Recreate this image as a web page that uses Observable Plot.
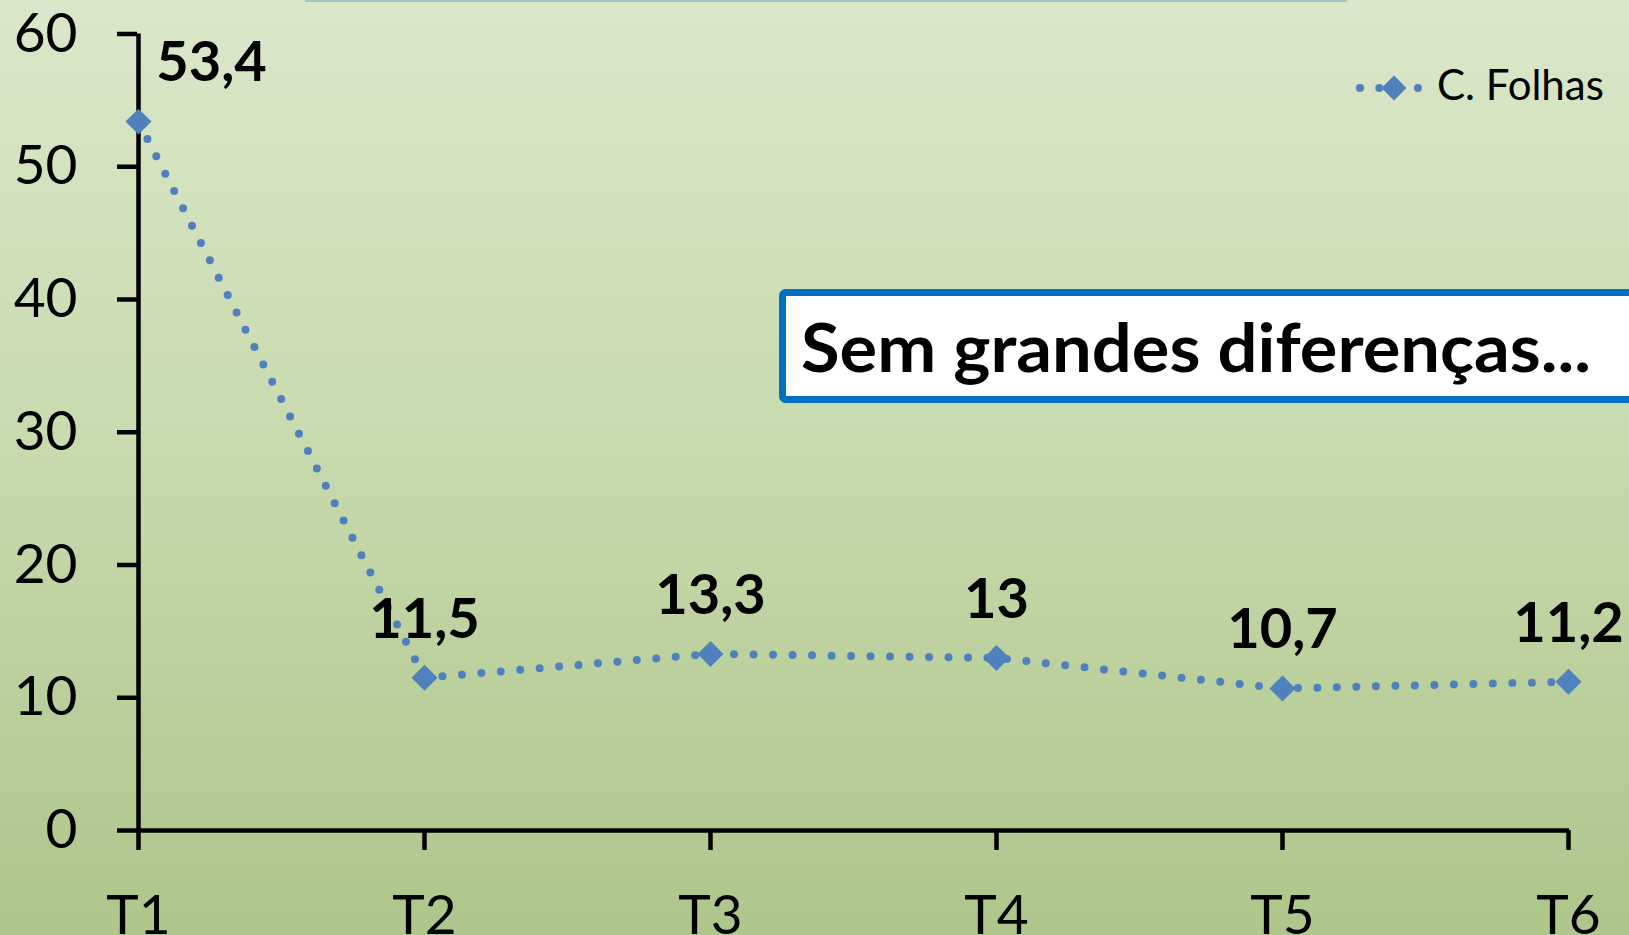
<!DOCTYPE html>
<html>
<head>
<meta charset="utf-8">
<script src="https://cdn.jsdelivr.net/npm/d3@7"></script>
<script src="https://cdn.jsdelivr.net/npm/@observablehq/plot@0.6"></script>
<style>
  html, body { margin: 0; padding: 0; width: 1629px; height: 935px; overflow: hidden; }
  #chart { width: 1629px; height: 935px; }
</style>
</head>
<body>
<div id="chart"></div>
<script>
// Data
const categories = ["T1", "T2", "T3", "T4", "T5", "T6"];
const values = [53.4, 11.5, 13.3, 13, 10.7, 11.2];
const yTicks = [0, 10, 20, 30, 40, 50, 60];
const seriesName = "C. Folhas";
const annotationText = "Sem grandes diferenças...";

const data = categories.map((c, i) => ({cat: c, v: values[i]}));
const fmt = v => String(v).replace(".", ",");
const blue = "#4F81BD";
const font = "Lato, 'Open Sans', sans-serif";

const W = 1629, H = 935;

const plot = Plot.plot({
  width: W,
  height: H,
  marginLeft: 137,
  marginRight: 60,
  marginTop: 33.5,
  marginBottom: 105,
  style: {
    background: "linear-gradient(to bottom, #DAE7CA 0%, #C9DBB0 45%, #ADC68A 100%)",
    fontFamily: font,
    fontSize: "55px",
    color: "#000",
    overflow: "visible"
  },
  x: {type: "point", domain: categories, padding: 0, label: null},
  y: {domain: [0, 60], label: null},
  marks: [
    Plot.axisY({ticks: yTicks, tickSize: 20, tickPadding: 40, stroke: "#000", strokeWidth: 4.5, strokeOpacity: 1, fontSize: 55, label: null}),
    Plot.axisX({tickSize: 20, tickPadding: 44, stroke: "#000", strokeWidth: 4.5, strokeOpacity: 1, fontSize: 55, label: null}),
    Plot.ruleX([categories[0]], {y1: 0, y2: 60, stroke: "#000", strokeWidth: 4.5}),
    Plot.ruleY([0], {stroke: "#000", strokeWidth: 4.5}),
    Plot.line(data, {x: "cat", y: "v", stroke: blue, strokeWidth: 8, strokeDasharray: "0 19.5", strokeLinecap: "round"}),
    Plot.dot(data, {x: "cat", y: "v", symbol: "diamond2", r: 11.7, fill: blue, stroke: "none"}),
    Plot.text(data.slice(1), {x: "cat", y: "v", text: d => fmt(d.v), dy: -40, lineAnchor: "bottom", fontWeight: "bold", fontSize: 56, fill: "#000"}),
    Plot.text(data.slice(0, 1), {x: "cat", y: "v", text: d => fmt(d.v), dx: 73, dy: -41, lineAnchor: "bottom", fontWeight: "bold", fontSize: 56, fill: "#000"})
  ]
});

document.getElementById("chart").appendChild(plot);

// Annotations (legend, note box, top line)
const svg = d3.select(plot);

// top light-blue line (edge of a cut-off title box)
svg.append("line").attr("x1", 305).attr("x2", 1347).attr("y1", 0.5).attr("y2", 0.5)
  .attr("stroke", "#9CC8CA").attr("stroke-width", 3);

// Legend
const lg = svg.append("g");
lg.append("line").attr("x1", 1360).attr("x2", 1418).attr("y1", 88).attr("y2", 88)
  .attr("stroke", blue).attr("stroke-width", 8).attr("stroke-linecap", "round")
  .attr("stroke-dasharray", "0 19.3");
lg.append("path").attr("d", d3.symbol(d3.symbolDiamond2, Math.PI * 11.2 * 11.2)())
  .attr("transform", "translate(1394,88)").attr("fill", blue);
lg.append("text").attr("x", 1437).attr("y", 100).text(seriesName)
  .attr("text-anchor", "start")
  .attr("font-family", font).attr("font-size", 42).attr("fill", "#000");

// Note box
const nb = svg.append("g");
nb.append("rect").attr("x", 782.5).attr("y", 292.5).attr("width", 900).attr("height", 107)
  .attr("rx", 3).attr("fill", "#fff").attr("stroke", "#0070C0").attr("stroke-width", 7);
nb.append("text").attr("x", 801).attr("y", 372).text(annotationText)
  .attr("text-anchor", "start")
  .attr("textLength", 790).attr("lengthAdjust", "spacingAndGlyphs")
  .attr("font-family", font).attr("font-weight", "bold").attr("font-size", 67).attr("fill", "#000");
</script>
</body>
</html>
